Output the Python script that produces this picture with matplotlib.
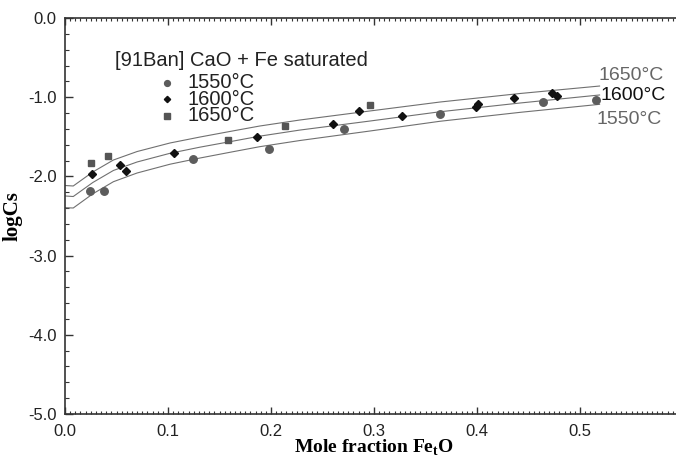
import matplotlib
matplotlib.use('Agg')
import matplotlib.pyplot as plt
from matplotlib.ticker import MultipleLocator, FormatStrFormatter

plt.rcParams['mathtext.fontset'] = 'custom'
plt.rcParams['mathtext.rm'] = 'Liberation Serif'
plt.rcParams['mathtext.bf'] = 'Liberation Serif:bold'

# measured points [91Ban], CaO + Fe saturated
x_1550 = [0.024, 0.038, 0.124, 0.198, 0.271, 0.364, 0.464, 0.516]
y_1550 = [-2.18, -2.19, -1.78, -1.66, -1.405, -1.21, -1.057, -1.035]

x_1600 = [0.026, 0.053, 0.059, 0.106, 0.186, 0.260, 0.285, 0.327, 0.399, 0.401, 0.436, 0.473, 0.478]
y_1600 = [-1.973, -1.856, -1.936, -1.705, -1.505, -1.338, -1.178, -1.241, -1.12, -1.086, -1.01, -0.951, -0.981]

x_1650 = [0.025, 0.042, 0.158, 0.214, 0.296]
y_1650 = [-1.831, -1.742, -1.540, -1.360, -1.102]

# calculated curves
x_calc = [0.0, 0.008, 0.027, 0.047, 0.070, 0.102, 0.131, 0.160, 0.189, 0.228, 0.296, 0.364, 0.442, 0.519]
y_calc_1650 = [-2.115, -2.121, -1.944, -1.793, -1.686, -1.578, -1.503, -1.433, -1.364, -1.288, -1.174, -1.061, -0.953, -0.859]
y_calc_1600 = [-2.247, -2.254, -2.077, -1.925, -1.818, -1.708, -1.631, -1.562, -1.492, -1.415, -1.301, -1.184, -1.073, -0.972]
y_calc_1550 = [-2.395, -2.399, -2.220, -2.067, -1.957, -1.846, -1.768, -1.696, -1.625, -1.547, -1.427, -1.304, -1.191, -1.090]

W, H = 676, 459
fig = plt.figure(figsize=(W / 100, H / 100), dpi=100)
ax = fig.add_axes([65 / W, 45 / H, 618 / W, 396 / H])

line_kw = dict(color='#707070', linewidth=0.8)
ax.plot(x_calc, y_calc_1650, **line_kw)
ax.plot(x_calc, y_calc_1600, **line_kw)
ax.plot(x_calc, y_calc_1550, **line_kw)

ax.plot(x_1550, y_1550, 'o', color='#5c5c5c', markersize=5.4, linestyle='none')
ax.plot(x_1600, y_1600, 'D', color='#111111', markersize=4.0, linestyle='none')
ax.plot(x_1650, y_1650, 's', color='#555555', markersize=4.4, linestyle='none')

ax.set_xlim(0, 0.6)
ax.set_ylim(-5, 0)
ax.xaxis.set_major_locator(MultipleLocator(0.1))
ax.xaxis.set_minor_locator(MultipleLocator(0.005))
ax.yaxis.set_major_locator(MultipleLocator(1.0))
ax.yaxis.set_minor_locator(MultipleLocator(0.2))
ax.xaxis.set_major_formatter(FormatStrFormatter('%.1f'))
ax.yaxis.set_major_formatter(FormatStrFormatter('%.1f'))
ax.set_xticks([0.0, 0.1, 0.2, 0.3, 0.4, 0.5])

ax.tick_params(which='both', direction='in', top=True, right=False,
               colors='#333333', labelcolor='#222222', labelsize=12,
               labelfontfamily='Liberation Sans')
ax.tick_params(axis='x', which='major', length=5, width=1, pad=7)
ax.tick_params(axis='x', which='minor', length=2.5, width=0.8)
ax.tick_params(axis='y', which='major', length=6, width=1, pad=6)
ax.tick_params(axis='y', which='minor', length=3, width=0.8)
for s in ax.spines.values():
    s.set_linewidth(1.2)
    s.set_color('#333333')

ax.set_xlabel('Mole fraction Fe$_\\mathbf{t}$O', fontfamily='Liberation Serif',
              fontweight='bold', fontsize=14, labelpad=-1)
ax.set_ylabel('logCs', fontfamily='Liberation Serif', fontweight='bold',
              fontsize=15, labelpad=4)

# legend, drawn by hand to match the tight layout of the original
sans = 'Liberation Sans'
fig.text(115 / W, 1 - 60 / H, '[91Ban] CaO + Fe saturated', fontfamily=sans,
         fontsize=14.5, color='#222222', va='center', ha='left')
leg_items = [('o', '#5c5c5c', 4.2, '1550°C', 82.7),
             ('D', '#111111', 3.2, '1600°C', 99.3),
             ('s', '#555555', 3.8, '1650°C', 115.5)]
for mk, col, ms, lab, yy in leg_items:
    fig.lines.append(plt.Line2D([167 / W], [1 - yy / H], marker=mk, color=col,
                                markersize=ms, linestyle='none',
                                transform=fig.transFigure))
    fig.text(188 / W, 1 - yy / H, lab, fontfamily=sans, fontsize=14.5,
             color='#222222', va='center', ha='left')

# curve labels at the right
fig.text(598 / W, 1 - 75 / H, '1650°C', fontfamily=sans, fontsize=14,
         color='#666666', va='center', ha='left')
fig.text(601 / W, 1 - 95 / H, '1600°C', fontfamily=sans, fontsize=14,
         color='#111111', va='center', ha='left')
fig.text(597 / W, 1 - 120 / H, '1550°C', fontfamily=sans, fontsize=14,
         color='#666666', va='center', ha='left')

fig.savefig('out.png', dpi=100)
